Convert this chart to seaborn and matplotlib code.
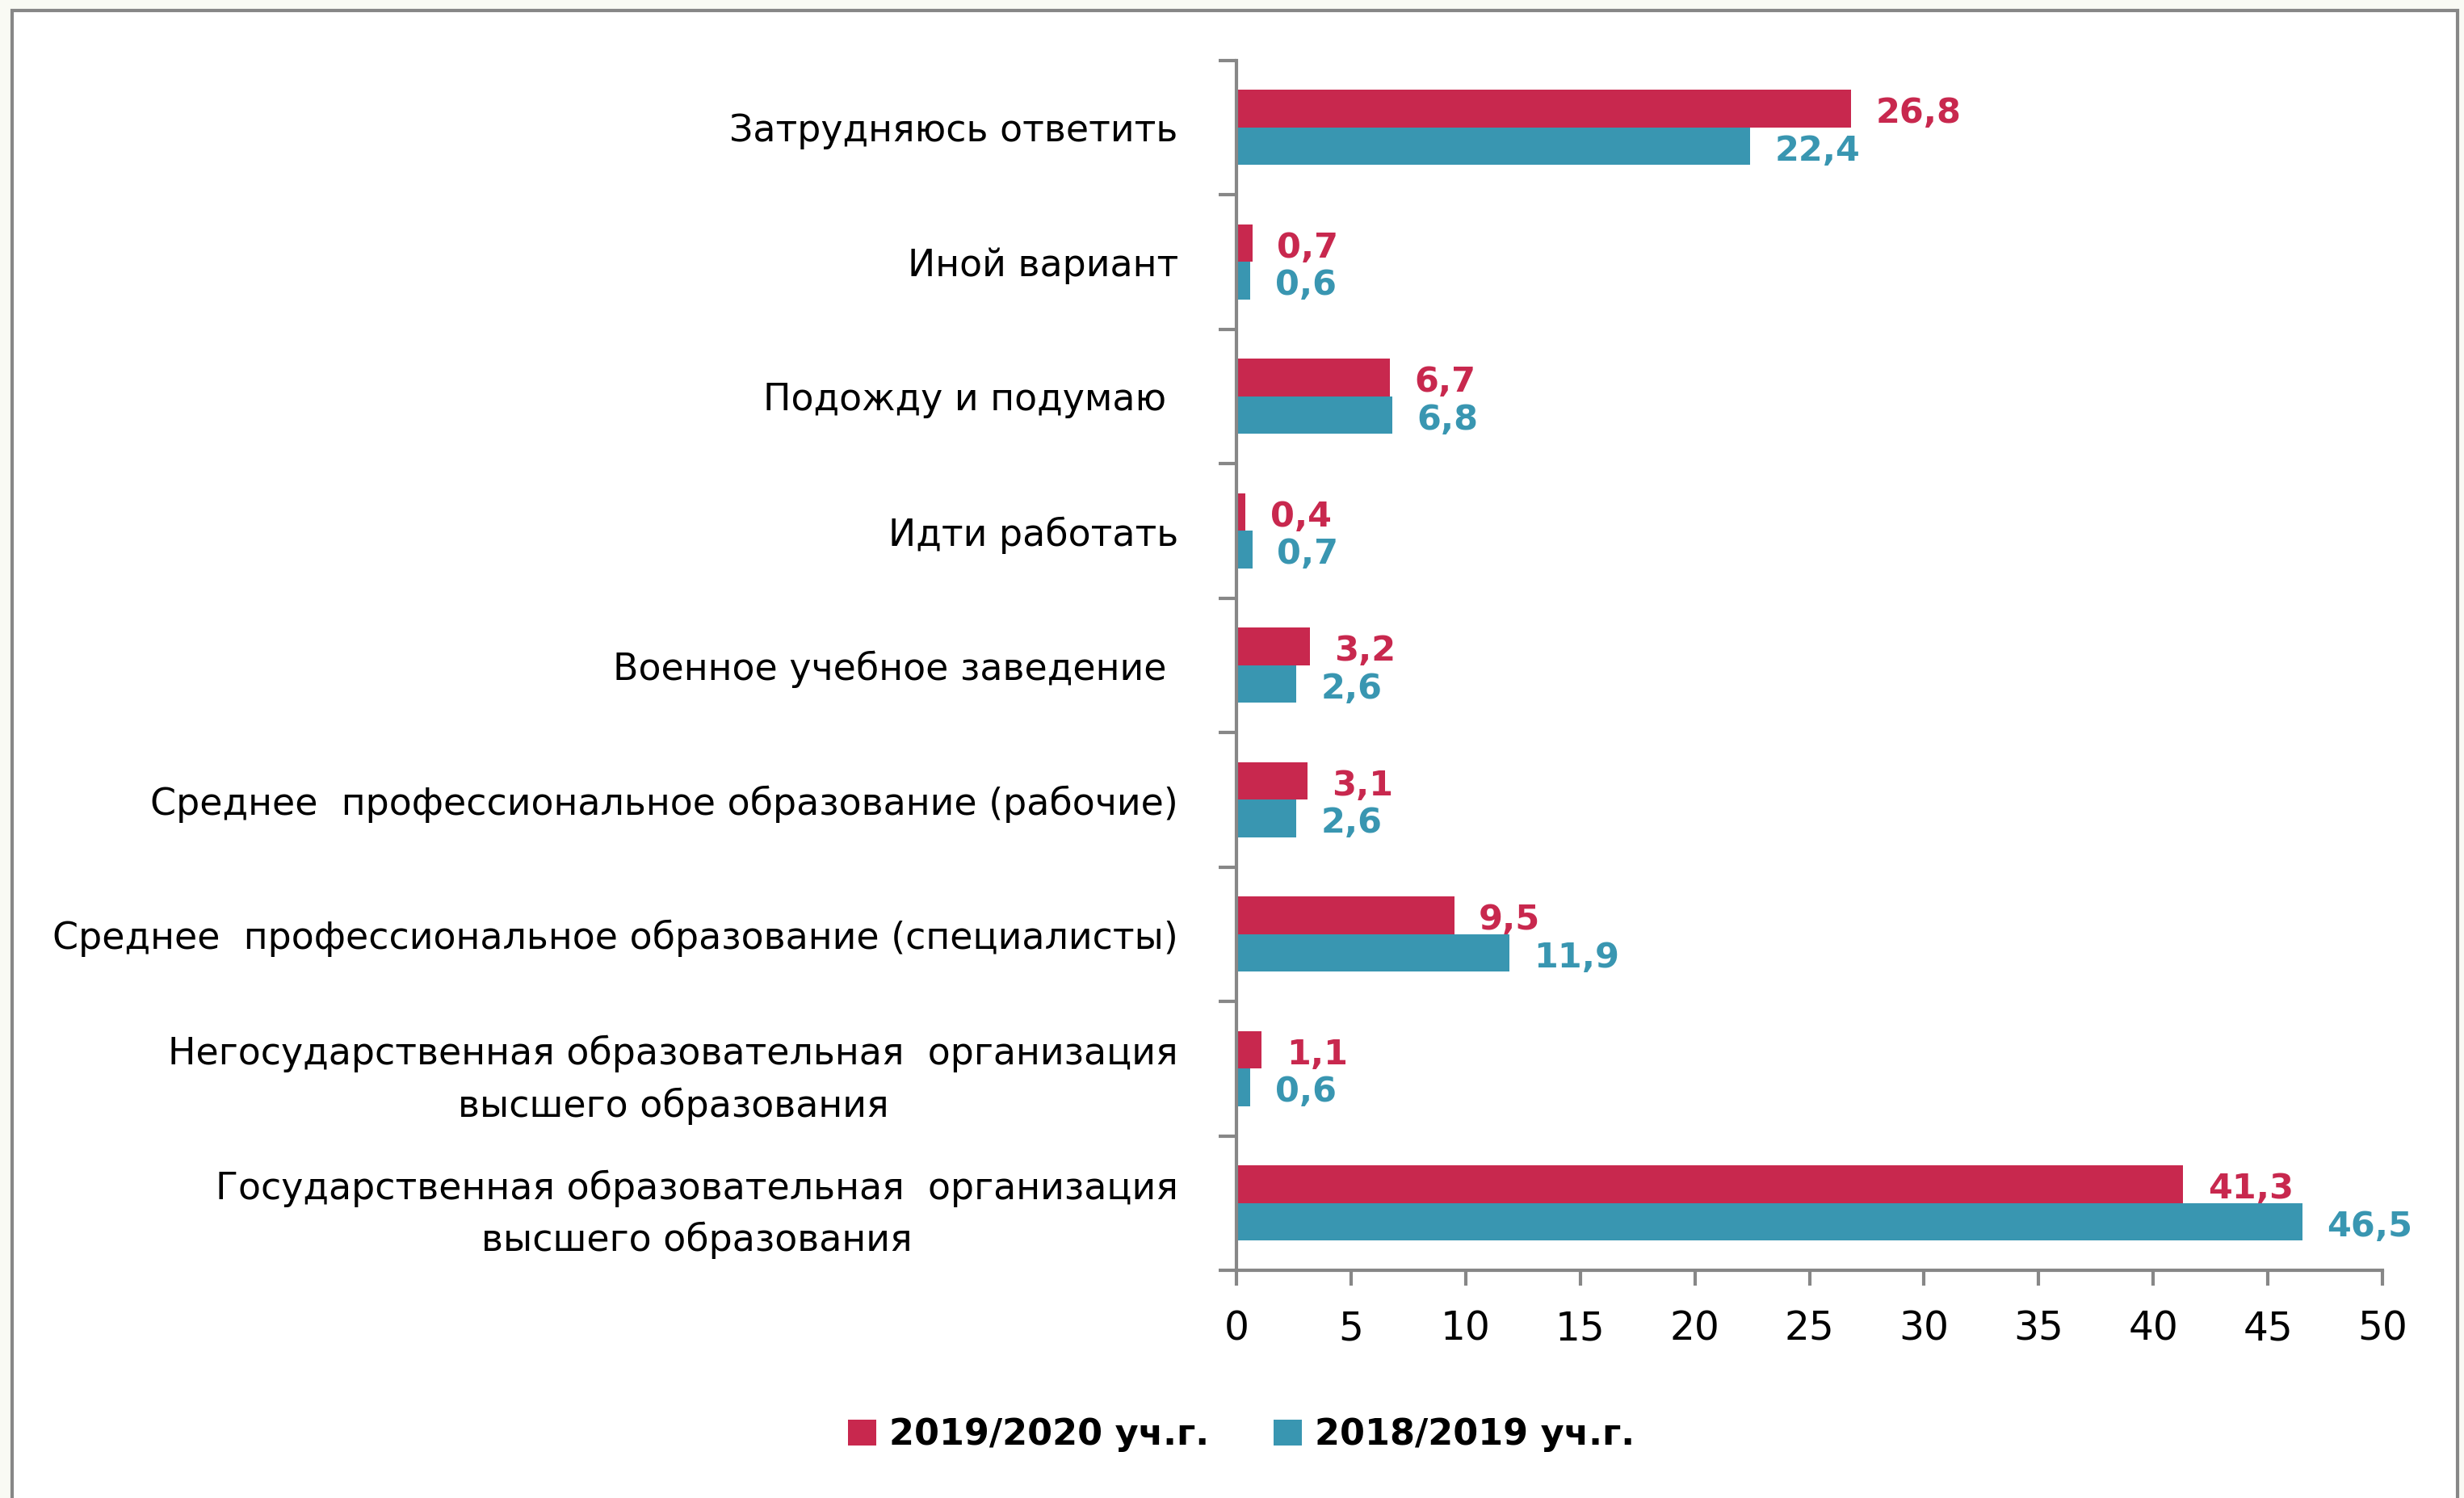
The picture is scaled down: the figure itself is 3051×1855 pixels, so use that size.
import numpy as np, pandas as pd
import seaborn as sns, matplotlib.pyplot as plt
from matplotlib.patches import Rectangle

# ────────── data ──────────
CATS = ["Затрудняюсь ответить",
        "Иной вариант",
        "Подожду и подумаю ",
        "Идти работать",
        "Военное учебное заведение ",
        "Среднее  профессиональное образование (рабочие)",
        "Среднее  профессиональное образование (специалисты)",
        "Негосударственная образовательная  организация\nвысшего образования",
        "Государственная образовательная  организация\nвысшего образования"]
Y2020 = [26.8, 0.7, 6.7, 0.4, 3.2, 3.1, 9.5, 1.1, 41.3]
Y2019 = [22.4, 0.6, 6.8, 0.7, 2.6, 2.6, 11.9, 0.6, 46.5]
SERIES = ["2019/2020 уч.г.", "2018/2019 уч.г."]
COLORS = ["#C8284E", "#3996B1"]
GRAY = "#878787"

df = pd.DataFrame({"cat": CATS * 2,
                   "val": Y2020 + Y2019,
                   "year": [SERIES[0]] * len(CATS) + [SERIES[1]] * len(CATS)})

sns.set_style("white")
plt.rcParams["font.family"] = ["DejaVu Sans"]
plt.rcParams["text.color"] = "black"
plt.rcParams["xtick.labelcolor"] = "black"
plt.rcParams["ytick.labelcolor"] = "black"

fig = plt.figure(figsize=(30.51, 18.55), dpi=100, facecolor="#F9FAF4")
# рамка вокруг области диаграммы
fig.patches.append(Rectangle((15/3051, -0.05), (3043-15)/3051, 1.05 - 13/1855,
                             transform=fig.transFigure, facecolor="white",
                             edgecolor=GRAY, linewidth=3, zorder=-1))

ax = fig.add_axes([0.5018, 0.152, 0.4651, 0.8078])
ax.set_facecolor("none")
sns.barplot(data=df, y="cat", x="val", hue="year", orient="h", ax=ax,
            palette=COLORS, saturation=1, width=0.56, linewidth=0)

# подписи значений
for cont, vals, col in zip(ax.containers, [Y2020, Y2019], COLORS):
    txts = ax.bar_label(cont, labels=[f"{v:.1f}".replace(".", ",") for v in vals],
                        padding=22, color=col, fontsize=31, fontweight="bold")
    for t in txts:
        t.xyann = (22, -4)

ax.set_xlim(0, 50)
ax.set_xticks(np.arange(0, 51, 5))
ax.set_xlabel(""); ax.set_ylabel("")
for s in ["top", "right"]:
    ax.spines[s].set_visible(False)
for s in ["left", "bottom"]:
    ax.spines[s].set_color(GRAY); ax.spines[s].set_linewidth(3)

ax.tick_params(axis="x", direction="out", length=14, width=3, color=GRAY,
               labelsize=35, pad=21, bottom=True, labelcolor="black")
ax.tick_params(axis="y", which="major", length=0, pad=52, labelsize=33,
               labelcolor="black")
ax.set_yticks(np.arange(-0.5, len(CATS), 1), minor=True)
ax.tick_params(axis="y", which="minor", direction="out", length=16, width=3,
               color=GRAY, left=True)
for lab in ax.get_yticklabels():
    lab.set_multialignment("center")
    lab.set_linespacing(1.5)

h, l = ax.get_legend_handles_labels()
ax.get_legend().remove()
fig.legend(h, l, loc="center", bbox_to_anchor=(0.5037, 1 - 1777/1855), ncol=2,
           frameon=False, prop={"size": 32, "weight": "bold"},
           handlelength=0.8, handleheight=0.7, handletextpad=0.35,
           columnspacing=1.8, labelcolor="black")

fig.savefig("out.png", dpi=100, facecolor=fig.get_facecolor())
